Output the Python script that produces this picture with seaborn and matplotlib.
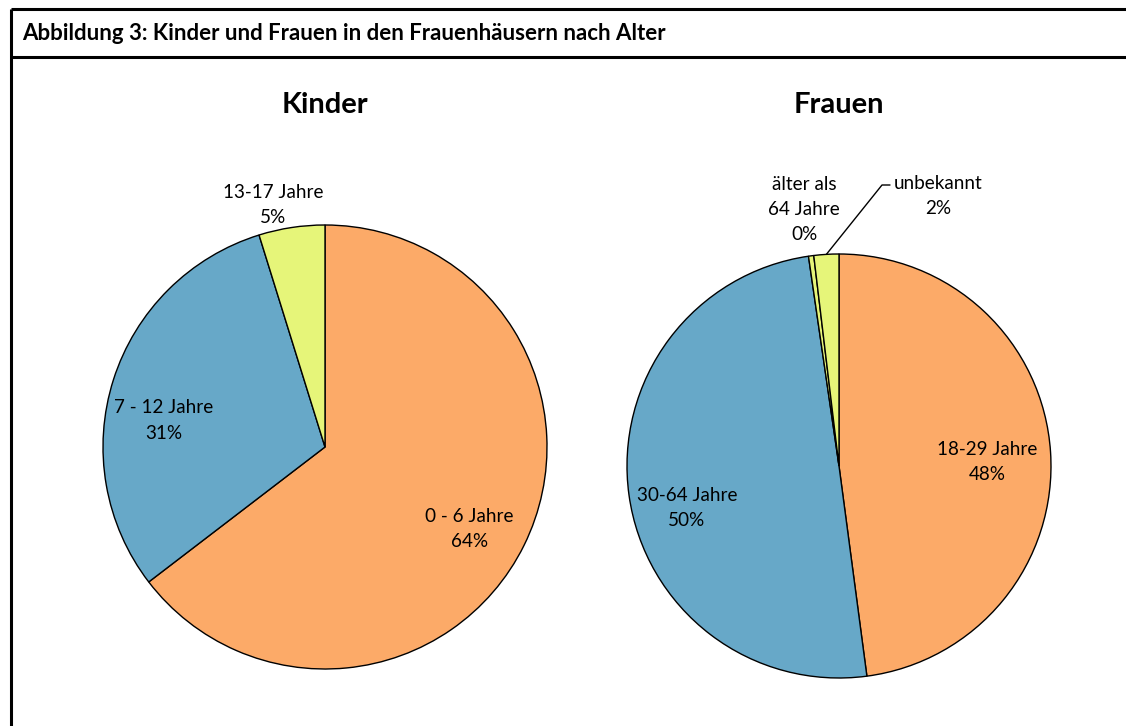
import matplotlib
matplotlib.use("Agg")
import matplotlib.pyplot as plt
import seaborn as sns
import numpy as np

# ---- data ----
kinder_labels = ["0 - 6 Jahre", "7 - 12 Jahre", "13-17 Jahre"]
kinder_values = [64.6, 30.6, 4.8]
kinder_pct = ["64%", "31%", "5%"]

frauen_labels = ["18-29 Jahre", "30-64 Jahre", "älter als\n64 Jahre", "unbekannt"]
frauen_values = [47.9, 49.8, 0.4, 1.9]
frauen_pct = ["48%", "50%", "0%", "2%"]

colors = ["#FCAA68", "#67A8C8", "#E6F579", "#E6F579"]

header = "Abbildung 3: Kinder und Frauen in den Frauenhäusern nach Alter"

# ---- layout (pixels, y measured from top) ----
W, H = 1126, 726
sns.set_theme(style="white")
plt.rcParams["font.family"] = ["Lato", "DejaVu Sans"]
plt.rcParams["text.color"] = "black"

fig = plt.figure(figsize=(W / 100, H / 100), dpi=100)
ax = fig.add_axes([0, 0, 1, 1])


def Y(y):
    return H - y


LABEL_FS = 13.6
LSP = 1.6

# frame
ax.plot([11, W], [Y(9), Y(9)], color="black", lw=2.2, solid_capstyle="butt")
ax.plot([11, W], [Y(57), Y(57)], color="black", lw=2.2, solid_capstyle="butt")
ax.plot([11, 11], [Y(9), 0], color="black", lw=2.2, solid_capstyle="butt")
ax.text(22, Y(34), header, fontsize=16, fontweight="bold", va="center", ha="left")


def draw_pie(cx, cy, r, values, cols, title, labels, pcts, label_pos):
    wedges, _ = ax.pie(values, colors=cols, startangle=90, counterclock=False,
                       center=(cx, Y(cy)), radius=r, frame=True,
                       wedgeprops=dict(edgecolor="black", linewidth=1.0))
    ax.text(cx, Y(105), title, fontsize=21, fontweight="bold", ha="center", va="center")
    for lab, pct, pos in zip(labels, pcts, label_pos):
        if pos is None:
            continue
        ax.text(cx + pos[0] * r, Y(cy) + pos[1] * r, f"{lab}\n{pct}", fontsize=LABEL_FS,
                ha="center", va="center", linespacing=LSP)
    return wedges


kinder_pos = [(0.65, -0.37), (-0.725, 0.12), (-0.235, 1.09)]
draw_pie(325, 447, 222, kinder_values, colors[:3], "Kinder",
         kinder_labels, kinder_pct, kinder_pos)

frauen_pos = [(0.70, 0.02), (-0.717, -0.198), (-0.165, 1.21), None]
fw = draw_pie(839, 466, 212, frauen_values, colors, "Frauen",
              frauen_labels, frauen_pct, frauen_pos)

# leader line for "unbekannt"
w = fw[3]
mid = np.deg2rad((w.theta1 + w.theta2) / 2)
px, py = 839 + 212 * np.cos(mid), Y(466) + 212 * np.sin(mid)
tx, ty = 882, Y(185)
ax.plot([px, tx, tx + 8], [py, ty, ty], color="black", lw=1.0)
ax.text(938, Y(196), f"{frauen_labels[3]}\n{frauen_pct[3]}", fontsize=LABEL_FS,
        ha="center", va="center", linespacing=LSP)

ax.set_xlim(0, W)
ax.set_ylim(0, H)
ax.set_aspect("equal")
ax.axis("off")

fig.savefig("out.png", dpi=100)
